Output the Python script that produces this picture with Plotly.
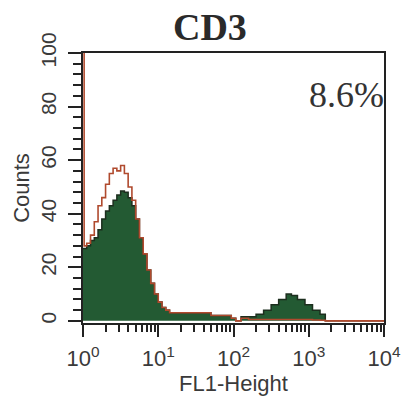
import plotly.graph_objects as go

# FL1 channel positions (as decade exponents) and counts
fl1_exp = [0.00, 0.015, 0.05, 0.10, 0.15, 0.20, 0.25, 0.30, 0.35, 0.40, 0.45,
           0.50, 0.55, 0.60, 0.65, 0.70, 0.75, 0.80, 0.85, 0.90, 0.95,
           1.00, 1.05, 1.10, 1.15, 1.30, 1.50, 1.70, 1.90, 1.97, 2.03,
           2.10, 2.20, 2.30, 2.40, 2.50, 2.60, 2.70, 2.77, 2.85, 2.95,
           3.05, 3.15, 3.22, 3.50, 4.00]
cd3_counts = [27, 27, 28, 30, 31, 34, 38, 41, 43, 45, 47,
              48.5, 48, 46, 43, 38, 31, 25, 19, 14, 10,
              7, 5, 4, 3, 3, 3, 2, 2, 1, 0,
              1.5, 1.5, 2.5, 4, 6, 8, 10, 9.5, 8, 6,
              4, 2.5, 0, 0, 0]
control_counts = [120, 28, 29, 32, 37, 43, 46, 51, 55, 57, 56,
                  58, 55, 50, 45, 38, 31, 25, 19, 14, 10,
                  7, 5, 4, 3, 3, 3, 2, 2, 1, 0,
                  1, 0.5, 0.5, 0.5, 0.5, 0.5, 0.5, 0.5, 0.5, 0.5,
                  0.3, 0.2, 0, 0, 0]
x_tick_vals = [1, 10, 100, 1000, 10000]
x_tick_text = ["10<sup>0</sup>", "10<sup>1</sup>", "10<sup>2</sup>",
               "10<sup>3</sup>", "10<sup>4</sup>"]
y_tick_vals = [0, 20, 40, 60, 80, 100]

fl1 = [10 ** e for e in fl1_exp]

fig = go.Figure()
fig.add_trace(go.Scatter(
    x=fl1, y=cd3_counts, mode="lines", line_shape="hv",
    fill="tozeroy", fillcolor="#235a33",
    line=dict(color="#1c2e1e", width=1.5), showlegend=False))
fig.add_trace(go.Scatter(
    x=fl1, y=control_counts, mode="lines", line_shape="hv",
    line=dict(color="#b04a2e", width=1.6), showlegend=False))

sans = "Liberation Sans, Arial"
serif = "Liberation Serif, Times New Roman"

fig.update_layout(
    width=413, height=400,
    margin=dict(l=83, r=17, t=53, b=69),
    paper_bgcolor="white", plot_bgcolor="white",
    title=dict(text="<b>CD3</b>", x=(215 - 83) / 313, xref="paper",
               xanchor="center", y=1 - 27 / 400, yanchor="middle",
               font=dict(family=serif, size=38, color="#2a2a2a")),
    xaxis=dict(
        type="log", range=[0, 4],
        tickvals=x_tick_vals, ticktext=x_tick_text,
        ticks="outside", ticklen=12, tickwidth=2, tickcolor="#222",
        showline=True, linecolor="#222", linewidth=2, mirror=True,
        showgrid=False, zeroline=False,
        minor=dict(ticks="outside", ticklen=7, tickwidth=1.5,
                   tickcolor="#222", dtick="D1", showgrid=False),
        tickfont=dict(family=sans, size=22, color="#3a3a3a"),
        ticklabelstandoff=3,
        title=dict(text="FL1-Height", standoff=1,
                   font=dict(family=sans, size=22, color="#3a3a3a")),
    ),
    yaxis=dict(
        range=[-0.8, 100],
        tickvals=y_tick_vals, tickangle=-90,
        ticks="outside", ticklen=13, tickwidth=2, tickcolor="#222",
        ticklabelstandoff=4,
        showline=True, linecolor="#222", linewidth=2, mirror=True,
        showgrid=False, zeroline=False,
        minor=dict(ticks="outside", ticklen=8, tickwidth=1.5,
                   tickcolor="#222", dtick=4, showgrid=False),
        tickfont=dict(family=sans, size=21, color="#3a3a3a"),
        title=dict(text="Counts", standoff=1,
                   font=dict(family=sans, size=22, color="#3a3a3a")),
    ),
    annotations=[dict(
        text="8.6%", x=1.005, y=0.845, xref="paper", yref="paper",
        xanchor="right", yanchor="middle", showarrow=False,
        font=dict(family=serif, size=36, color="#333"))],
)

fig.write_html("out.html")
